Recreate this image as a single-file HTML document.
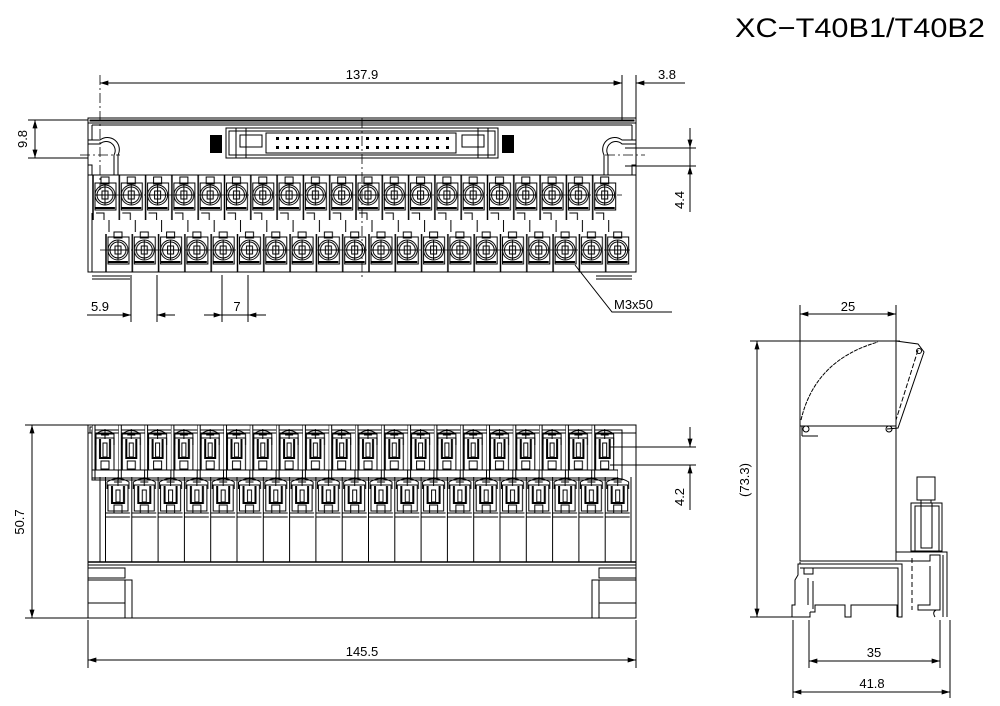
<!DOCTYPE html>
<html><head><meta charset="utf-8"><style>
html,body{margin:0;padding:0;background:#fff;}
svg{display:block;}
text{font-family:"Liberation Sans",sans-serif;fill:#000;}
</style></head><body>
<svg width="1000" height="706" viewBox="0 0 1000 706" xmlns="http://www.w3.org/2000/svg">
<defs>
<marker id="ar" viewBox="0 0 10 6" refX="10" refY="3" markerWidth="9" markerHeight="5" orient="auto-start-reverse" markerUnits="userSpaceOnUse"><path d="M0,0 L10,3 L0,6z" fill="#000"/></marker>
<pattern id="tA" x="92" y="175" width="26.3" height="45" patternUnits="userSpaceOnUse">
 <g fill="none" stroke="#000" stroke-width="1">
 <line x1="1" y1="0" x2="1" y2="45" stroke-width="1.5"/>
 <rect x="9" y="2" width="8" height="7"/>
 <rect x="3" y="8" width="21" height="27"/>
 <circle cx="13" cy="20" r="10"/>
 <circle cx="13" cy="20" r="8"/>
 <line x1="13" y1="10" x2="13" y2="30"/><line x1="3" y1="20" x2="23" y2="20"/>
 <rect x="10" y="16" width="6" height="8"/>
 <line x1="3" y1="33" x2="23" y2="33" stroke-width="2"/>
 <path d="M4,38 H12 V45"/>
 </g>
</pattern>
<pattern id="tB" x="105" y="220" width="26.3" height="55" patternUnits="userSpaceOnUse">
 <g fill="none" stroke="#000" stroke-width="1">
 <path d="M4,0 V12"/>
 <line x1="1" y1="14" x2="1" y2="52" stroke-width="1.5"/>
 <rect x="9" y="12" width="8" height="6"/>
 <rect x="3" y="17" width="21" height="27"/>
 <circle cx="13" cy="30" r="10"/>
 <circle cx="13" cy="30" r="8"/>
 <line x1="13" y1="20" x2="13" y2="40"/><line x1="3" y1="30" x2="23" y2="30"/>
 <rect x="10" y="26" width="6" height="8"/>
 <line x1="3" y1="42" x2="23" y2="42" stroke-width="2"/>
 </g>
</pattern>
<pattern id="fA" x="92" y="425" width="26.3" height="55" patternUnits="userSpaceOnUse">
 <g fill="none" stroke="#000" stroke-width="1">
 <rect x="0" y="0" width="3" height="55" fill="#fff"/>
 <path d="M4,20 V9 Q13,2 22,9 V20"/>
 <line x1="4" y1="9" x2="22" y2="9"/>
 <line x1="13" y1="4" x2="13" y2="14"/><line x1="9" y1="10" x2="17" y2="10"/>
 <rect x="4" y="13" width="18" height="32"/>
 <path d="M8,14 V33 H18 V14" stroke-width="2"/>
 <rect x="11" y="18" width="4" height="14"/>
 <rect x="9" y="36" width="8" height="8"/>
 <line x1="4" y1="45" x2="22" y2="45"/>
 <rect x="0" y="45" width="26.3" height="8"/>
 </g>
</pattern>
<pattern id="fB" x="105" y="477" width="26.3" height="85" patternUnits="userSpaceOnUse">
 <g fill="none" stroke="#000" stroke-width="1">
 <path d="M2,12 V5 Q13,-2 24,5 V12"/>
 <line x1="13" y1="0" x2="13" y2="9"/><line x1="9" y1="5" x2="17" y2="5"/>
 <rect x="3" y="8" width="20" height="26"/>
 <path d="M7,9 V26 H19 V9" stroke-width="2"/>
 <rect x="11" y="13" width="4" height="12"/>
 <rect x="9" y="28" width="8" height="8"/>
 <line x1="1" y1="36" x2="25" y2="36"/><line x1="1" y1="40" x2="25" y2="40"/>
 <line x1="0.5" y1="0" x2="0.5" y2="85"/>
 </g>
</pattern>
</defs>

<text x="735" y="37" font-size="27" textLength="250" lengthAdjust="spacingAndGlyphs" fill="#222">XC−T40B1/T40B2</text>

<!-- TOP VIEW -->
<g fill="none" stroke="#000" stroke-width="1">
 <rect x="88" y="118" width="548" height="5"/>
 <rect x="90" y="120" width="544" height="1"/>
 <path d="M88,118 V178 M636,118 V178"/>
 <path d="M92,125 H632" />
 <path d="M92,125 V140 M632,125 V140"/>
 <path d="M88,140 H100 A12,12 0 0 1 118,155 V175"/>
 <path d="M88,144 H100 A9,9 0 0 1 114,155 V175"/>
 <path d="M88,165 H92 V175"/>
 <path d="M636,140 H622 A12,12 0 0 0 604,155 V175"/>
 <path d="M636,144 H622 A9,9 0 0 0 608,155 V175"/>
 <path d="M636,165 H632 V175"/>
 <rect x="226" y="128" width="272" height="30"/>
 <rect x="229" y="131" width="266" height="24"/>
 <rect x="240" y="135" width="22" height="12"/>
 <rect x="462" y="135" width="22" height="12"/>
 <rect x="236" y="128" width="10" height="30"/><rect x="478" y="128" width="10" height="30"/>
 <rect x="266" y="133" width="190" height="20"/>
</g>
<rect x="210" y="135" width="12" height="18" fill="#000"/>
<rect x="502" y="135" width="12" height="18" fill="#000"/>
<g fill="#000">
 <g id="pins">
 <rect x="276" y="137" width="3" height="3"/><rect x="286" y="137" width="3" height="3"/><rect x="296" y="137" width="3" height="3"/><rect x="306" y="137" width="3" height="3"/><rect x="316" y="137" width="3" height="3"/><rect x="326" y="137" width="3" height="3"/><rect x="336" y="137" width="3" height="3"/><rect x="346" y="137" width="3" height="3"/><rect x="356" y="137" width="3" height="3"/><rect x="366" y="137" width="3" height="3"/><rect x="376" y="137" width="3" height="3"/><rect x="386" y="137" width="3" height="3"/><rect x="396" y="137" width="3" height="3"/><rect x="406" y="137" width="3" height="3"/><rect x="416" y="137" width="3" height="3"/><rect x="426" y="137" width="3" height="3"/><rect x="436" y="137" width="3" height="3"/><rect x="446" y="137" width="3" height="3"/>
 </g>
 <use href="#pins" y="9"/>
</g>
<rect x="88" y="175" width="548" height="97" fill="none" stroke="#000"/>
<rect x="92" y="175" width="526" height="45" fill="url(#tA)"/>
<rect x="105" y="220" width="526" height="55" fill="url(#tB)"/>
<path d="M92,213 V272 M88,272 H636 M92,276 H130 M92,279 H130 M596,276 H632 M596,279 H632" stroke="#000" fill="none"/>
<g stroke="#000" stroke-width="0.8" fill="none" stroke-dasharray="10,3,2,3">
 <line x1="362" y1="118" x2="362" y2="280"/>
 <line x1="95" y1="195" x2="622" y2="195"/>
 <line x1="100" y1="250" x2="630" y2="250"/>
 <line x1="100" y1="75" x2="100" y2="190"/>
 <line x1="80" y1="155" x2="120" y2="155"/>
 <line x1="605" y1="155" x2="645" y2="155"/>
</g>
<g stroke="#000" stroke-width="1" fill="none">
 <line x1="100" y1="83" x2="622" y2="83" marker-start="url(#ar)" marker-end="url(#ar)"/>
 <line x1="622" y1="75" x2="622" y2="120"/><line x1="636" y1="75" x2="636" y2="120"/>
 <line x1="600" y1="83" x2="622" y2="83" marker-end="url(#ar)"/>
 <line x1="660" y1="83" x2="636" y2="83" marker-end="url(#ar)"/>
 <line x1="636" y1="83" x2="685" y2="83"/>
 <line x1="28" y1="120" x2="88" y2="120"/><line x1="28" y1="158" x2="88" y2="158"/>
 <line x1="35" y1="120" x2="35" y2="158" marker-start="url(#ar)" marker-end="url(#ar)"/>
 <line x1="625" y1="148" x2="696" y2="148"/><line x1="625" y1="166" x2="696" y2="166"/>
 <line x1="690" y1="128" x2="690" y2="148" marker-end="url(#ar)"/>
 <line x1="690" y1="186" x2="690" y2="166" marker-end="url(#ar)"/>
 <line x1="690" y1="148" x2="690" y2="212"/>
 <line x1="131" y1="275" x2="131" y2="322"/><line x1="157" y1="275" x2="157" y2="322"/>
 <line x1="87" y1="315" x2="131" y2="315" marker-end="url(#ar)"/>
 <line x1="175" y1="315" x2="157" y2="315" marker-end="url(#ar)"/>
 <line x1="222" y1="275" x2="222" y2="322"/><line x1="248" y1="275" x2="248" y2="322"/>
 <line x1="204" y1="315" x2="222" y2="315" marker-end="url(#ar)"/>
 <line x1="266" y1="315" x2="248" y2="315" marker-end="url(#ar)"/>
 <line x1="222" y1="315" x2="266" y2="315"/>
 <polyline points="575,265 612,312 672,312"/>
</g>
<text x="362" y="79" font-size="13" text-anchor="middle">137.9</text>
<text x="667" y="79" font-size="13" text-anchor="middle">3.8</text>
<text x="100" y="311" font-size="13" text-anchor="middle">5.9</text>
<text x="237" y="311" font-size="13" text-anchor="middle">7</text>
<text x="614" y="309" font-size="13">M3x50</text>
<text transform="translate(27,139) rotate(-90)" font-size="13" text-anchor="middle">9.8</text>
<text transform="translate(684,200) rotate(-90)" font-size="13" text-anchor="middle">4.4</text>

<!-- FRONT VIEW -->
<g fill="none" stroke="#000" stroke-width="1">
 <rect x="88" y="425" width="548" height="193"/>
 <rect x="90" y="427" width="5" height="6"/>
 <line x1="88" y1="562" x2="636" y2="562" stroke-width="1.5"/>
 <line x1="88" y1="565" x2="636" y2="565"/>
 <path d="M88,568 H125 V578 H88 M88,580 H125 V603 H88 M125,580 H132 V618 M125,603 V618"/>
 <path d="M636,568 H599 V578 H636 M636,580 H599 V603 H636 M599,580 H592 V618 M599,603 V618"/>
 <rect x="92" y="430" width="530" height="50" fill="#fff"/>
 <line x1="88" y1="433" x2="636" y2="433"/>
</g>
<rect x="92" y="425" width="526" height="55" fill="url(#fA)"/>
<rect x="105" y="477" width="526" height="85" fill="url(#fB)"/>
<line x1="100" y1="477" x2="100" y2="562" stroke="#000"/>
<line x1="631" y1="477" x2="631" y2="562" stroke="#000"/>
<g stroke="#000" stroke-width="1" fill="none">
 <line x1="25" y1="425" x2="88" y2="425"/><line x1="25" y1="618" x2="88" y2="618"/>
 <line x1="32" y1="425" x2="32" y2="618" marker-start="url(#ar)" marker-end="url(#ar)"/>
 <line x1="88" y1="620" x2="88" y2="668"/><line x1="636" y1="620" x2="636" y2="668"/>
 <line x1="88" y1="660" x2="636" y2="660" marker-start="url(#ar)" marker-end="url(#ar)"/>
 <line x1="610" y1="447" x2="696" y2="447"/><line x1="610" y1="465" x2="696" y2="465"/>
 <line x1="690" y1="427" x2="690" y2="447" marker-end="url(#ar)"/>
 <line x1="690" y1="485" x2="690" y2="465" marker-end="url(#ar)"/>
 <line x1="690" y1="465" x2="690" y2="510"/>
</g>
<text x="362" y="656" font-size="13" text-anchor="middle">145.5</text>
<text transform="translate(24,522) rotate(-90)" font-size="13" text-anchor="middle">50.7</text>
<text transform="translate(684,497) rotate(-90)" font-size="13" text-anchor="middle">4.2</text>

<!-- SIDE VIEW -->
<g fill="none" stroke="#000" stroke-width="1">
 <rect x="800" y="341" width="96" height="220"/>
 <line x1="800" y1="426" x2="896" y2="426"/>
 <path d="M801,420 Q815,360 878,342" stroke-dasharray="4,1"/>
 <path d="M896,341 L918,344 L924,352 L898,428 L887,429" />
 <path d="M918,350 L896,420" stroke-dasharray="5,2"/>
 <circle cx="919" cy="351" r="2.5"/>
 <circle cx="806" cy="429" r="3"/><circle cx="889" cy="429" r="3"/>
 <path d="M802,436 H818 M802,436 V426"/>
 <path d="M800,561 H896 V552 H947 V617"/>
 <path d="M800,562 L800,564 H902 V617 H898 V568 H800"/>
 <path d="M800,564 H798 V575 L795,580 V605 H792 V617 H810 V612 M808,578 V605 M813,581 V609"/>
 <rect x="804" y="568" width="9" height="6"/>
 <path d="M810,612 H815 V605 H845 V617 H851 V605 H897 V617"/>
 <path d="M896,552 V561 H930 V555 H940 V610 H918 V605 H930 V566 M943,555 V617"/>
 <line x1="912" y1="558" x2="912" y2="610" stroke-dasharray="5,3"/>
 <path d="M936,610 Q932,612 935,617"/>
 <rect x="917" y="477" width="18" height="23"/>
 <path d="M921,500 V503 M931,500 V503"/>
 <rect x="911" y="503" width="31" height="48"/>
 <rect x="915" y="506" width="24" height="45"/>
 <rect x="921" y="503" width="11" height="45"/>
 <line x1="800" y1="305" x2="800" y2="341"/><line x1="896" y1="305" x2="896" y2="341"/>
 <line x1="800" y1="314" x2="896" y2="314" marker-start="url(#ar)" marker-end="url(#ar)"/>
 <line x1="750" y1="341" x2="900" y2="341"/><line x1="750" y1="617" x2="795" y2="617"/>
 <line x1="757" y1="341" x2="757" y2="617" marker-start="url(#ar)" marker-end="url(#ar)"/>
 <line x1="809" y1="620" x2="809" y2="668"/><line x1="940" y1="620" x2="940" y2="668"/>
 <line x1="809" y1="661" x2="940" y2="661" marker-start="url(#ar)" marker-end="url(#ar)"/>
 <line x1="793" y1="620" x2="793" y2="698"/><line x1="950" y1="620" x2="950" y2="698"/>
 <line x1="793" y1="692" x2="950" y2="692" marker-start="url(#ar)" marker-end="url(#ar)"/>
</g>
<text x="848" y="311" font-size="13" text-anchor="middle">25</text>
<text transform="translate(749,480) rotate(-90)" font-size="13" text-anchor="middle">(73.3)</text>
<text x="874" y="657" font-size="13" text-anchor="middle">35</text>
<text x="872" y="688" font-size="13" text-anchor="middle">41.8</text>
</svg>
</body></html>
